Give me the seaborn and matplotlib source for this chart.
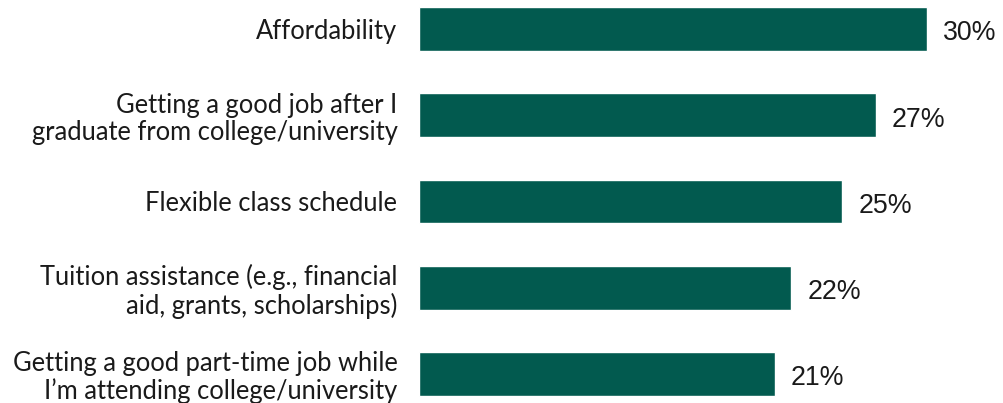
import matplotlib
matplotlib.use("Agg")
import matplotlib.pyplot as plt
import seaborn as sns
import pandas as pd

categories = [
    "Affordability",
    "Getting a good job after I\ngraduate from college/university",
    "Flexible class schedule",
    "Tuition assistance (e.g., financial\naid, grants, scholarships)",
    "Getting a good part-time job while\nI\u2019m attending college/university",
]
values = [30, 27, 25, 22, 21]
value_labels = ["30%", "27%", "25%", "22%", "21%"]

sns.set_theme(style="white")
plt.rcParams['font.family'] = ['Lato', 'DejaVu Sans']

df = pd.DataFrame({"category": categories, "value": values})

fig = plt.figure(figsize=(10.04, 4.03), dpi=100)
ax = fig.add_axes([419 / 1004, 0, 585 / 1004, 1])
sns.barplot(data=df, x="value", y="category", color="#025a4f", saturation=1,
            width=0.51, ax=ax)

ax.set_xlim(0, 585 / 16.93)
ax.set_ylim(4 + 29 / 86.25, -29 / 86.25)
for s in ax.spines.values():
    s.set_visible(False)
ax.set_xticks([])
ax.set_xlabel("")
ax.set_ylabel("")
ax.tick_params(axis="y", length=0, pad=15.5)
for lbl in ax.get_yticklabels():
    lbl.set_fontsize(18.4)
    lbl.set_color("#1a1a1a")
    lbl.set_linespacing(1.12)
    lbl.set_horizontalalignment("right")
    lbl.set_multialignment("right")

for i, (v, t) in enumerate(zip(values, value_labels)):
    ax.annotate(t, xy=(v, i), xytext=(11.5, -3.2), textcoords="offset points",
                va="center", ha="left", fontsize=19.3, color="#1a1a1a",
                family="Liberation Sans")

fig.savefig("out.png", dpi=100)
